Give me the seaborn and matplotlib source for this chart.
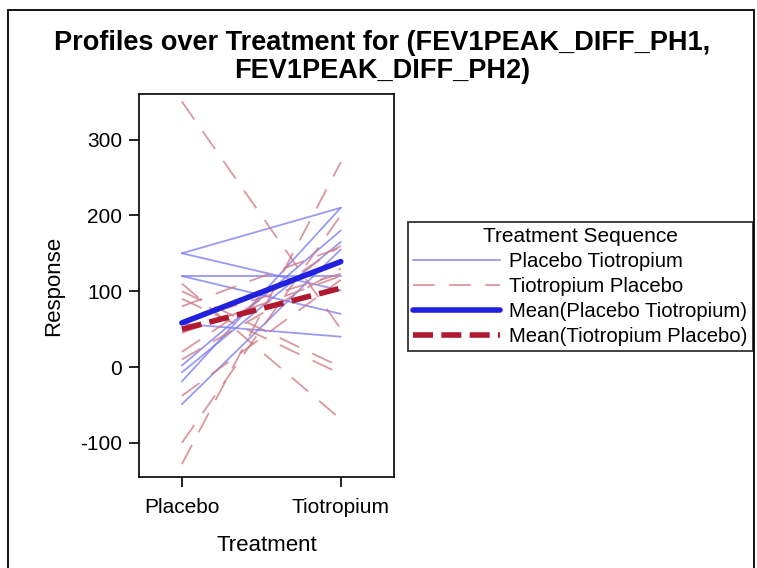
import numpy as np
import pandas as pd
import seaborn as sns
import matplotlib.pyplot as plt
from matplotlib.lines import Line2D
from matplotlib.patches import Rectangle

sns.set_style("white")
plt.rcParams["font.family"] = ["Liberation Sans", "DejaVu Sans"]
plt.rcParams["axes.unicode_minus"] = False
plt.rcParams["text.color"] = "black"
plt.rcParams["axes.labelcolor"] = "black"
plt.rcParams["xtick.color"] = "black"
plt.rcParams["ytick.color"] = "black"

treatments = ["Placebo", "Tiotropium"]

# Placebo -> Tiotropium sequence (response at Placebo, response at Tiotropium)
pt_placebo = [150, 150, 120, 120, 57, 2, -7, -19, -49]
pt_tiotropium = [210, 101, 120, 70, 40, 180, 165, 210, 155]

# Tiotropium -> Placebo sequence
tp_placebo = [350, 110, 100, 90, 80, 60, 20, 10, -38, -100, -128, 45]
tp_tiotropium = [50, -69, 0, -9, 158, 123, 160, 130, 115, 200, 270, 120]

seq_labels = ["Placebo Tiotropium", "Tiotropium Placebo"]


def long_frame(pl, ti, seq):
    rows = []
    for i, (a, b) in enumerate(zip(pl, ti)):
        rows.append({"subject": f"{seq}_{i}", "seq": seq, "trt": 0, "resp": a})
        rows.append({"subject": f"{seq}_{i}", "seq": seq, "trt": 1, "resp": b})
    return pd.DataFrame(rows)


df = pd.concat([long_frame(pt_placebo, pt_tiotropium, seq_labels[0]),
                long_frame(tp_placebo, tp_tiotropium, seq_labels[1])],
               ignore_index=True)

fig = plt.figure(figsize=(7.57, 5.68), dpi=100)
ax = fig.add_axes([139 / 757, 1 - 477 / 568, (394 - 139) / 757, (477 - 94) / 568])

light_blue = "#7878f0"
light_red = "#d07480"
mean_blue = "#2020dd"
mean_red = "#b01830"
thin_dash = [12, 8]
mean_dash = [3.6, 1.5]

# individual profiles
sns.lineplot(data=df[df["seq"] == seq_labels[0]], x="trt", y="resp", units="subject",
             estimator=None, color=light_blue, alpha=0.75, linewidth=1.3, ax=ax)
sns.lineplot(data=df[df["seq"] == seq_labels[1]], x="trt", y="resp", units="subject",
             estimator=None, color=light_red, alpha=0.75, linewidth=1.3, ax=ax)
for l in ax.lines[len(pt_placebo):]:
    l.set_dashes(thin_dash)

# mean profiles
sns.lineplot(data=df[df["seq"] == seq_labels[0]], x="trt", y="resp", estimator="mean",
             errorbar=None, color=mean_blue, linewidth=4, ax=ax)
sns.lineplot(data=df[df["seq"] == seq_labels[1]], x="trt", y="resp", estimator="mean",
             errorbar=None, color=mean_red, linewidth=4, ax=ax)
ax.lines[-1].set_dashes(mean_dash)

ax.set_xlim(-0.27, 1.335)
ax.set_ylim(-145, 360)
ax.set_xticks([0, 1])
ax.set_xticklabels(treatments)
ax.set_yticks([-100, 0, 100, 200, 300])
ax.tick_params(axis="both", direction="out", length=7, width=1.2, labelsize=15,
               bottom=True, left=True)
ax.tick_params(axis="x", pad=8)
ax.tick_params(axis="y", pad=5)
ax.set_xlabel("Treatment", fontsize=16, labelpad=13)
ax.set_ylabel("Response", fontsize=16, labelpad=12)
for s in ax.spines.values():
    s.set_color("black")
    s.set_linewidth(1.2)
    s.set_visible(True)

fig.suptitle("Profiles over Treatment for (FEV1PEAK_DIFF_PH1,\nFEV1PEAK_DIFF_PH2)",
             fontsize=19.5, fontweight="bold", y=0.948, x=0.505, linespacing=1.1)

handles = [Line2D([0], [0], color=light_blue, linewidth=1.3, alpha=0.75),
           Line2D([0], [0], color=light_red, linewidth=1.3, alpha=0.75, dashes=thin_dash),
           Line2D([0], [0], color=mean_blue, linewidth=4),
           Line2D([0], [0], color=mean_red, linewidth=4, dashes=mean_dash)]
labels = seq_labels + ["Mean(Placebo Tiotropium)", "Mean(Tiotropium Placebo)"]
leg = fig.legend(handles, labels, title="Treatment Sequence", loc="upper left",
                 bbox_to_anchor=(408 / 757, 1 - 222 / 568), fontsize=14.6,
                 title_fontsize=15, frameon=True, fancybox=False, borderpad=0.25,
                 handlelength=4.3, handletextpad=0.45, labelspacing=0.3,
                 borderaxespad=0)
leg.get_frame().set_edgecolor("black")
leg.get_frame().set_linewidth(1.3)

# outer border of the graph
fig.patches.append(Rectangle((8 / 757, -0.01), (754 - 8) / 757, 1 - 10 / 568 + 0.01,
                             transform=fig.transFigure, fill=False,
                             edgecolor="black", linewidth=1.3))

fig.savefig("out.png", dpi=100)
